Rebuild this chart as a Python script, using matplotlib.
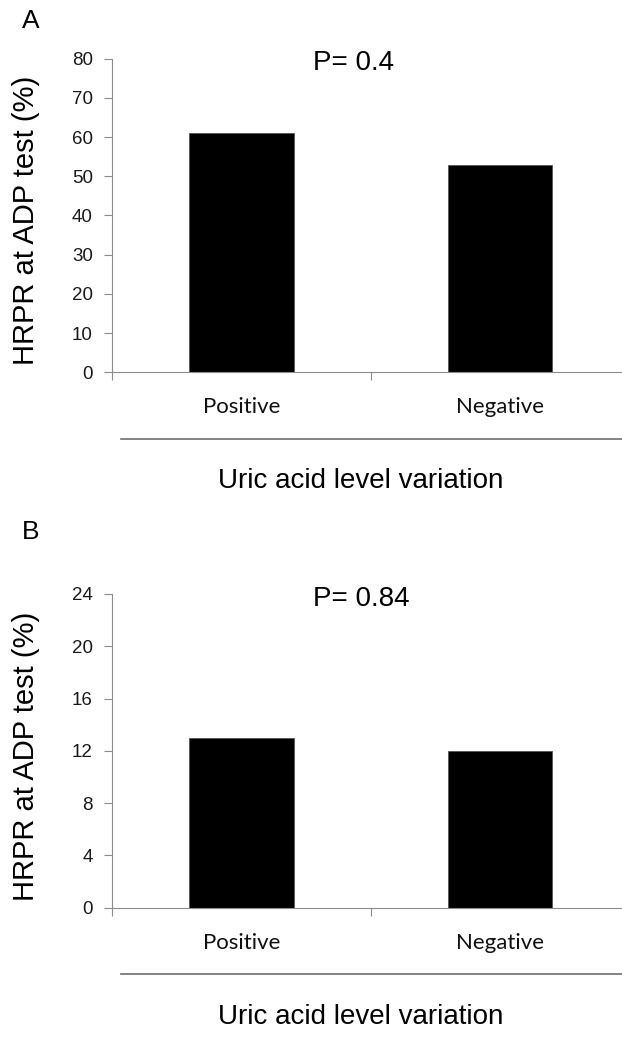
import matplotlib.pyplot as plt
from matplotlib.lines import Line2D
from matplotlib.transforms import blended_transform_factory

groups = ["Positive", "Negative"]
hrpr_a = [61, 53]
hrpr_b = [13, 12]
p_a = "P= 0.4"
p_b = "P= 0.84"
yticks_a = [0, 10, 20, 30, 40, 50, 60, 70, 80]
yticks_b = [0, 4, 8, 12, 16, 20, 24]

W, H = 622, 1039
fig = plt.figure(figsize=(W / 100, H / 100), dpi=100)
plt.rcParams['font.family'] = ['Liberation Sans', 'DejaVu Sans']

AXIS_GREY = '#8c8c8c'


def px(x, y):
    return x / W, 1 - y / H


def panel(top, letter, letter_y, values, yticks, ptext):
    bottom = top + 313.6
    left = 112.3
    width = 2 * 258.4
    x0, y0 = px(left, bottom)
    ax = fig.add_axes([x0, y0, width / W, 313.6 / H])
    ax.bar(range(len(values)), values, width=0.405, color='black',
           edgecolor='#555555', linewidth=0.6)
    ax.set_xlim(-0.5, 1.5)
    ax.set_ylim(yticks[0], yticks[-1])
    ax.set_yticks(yticks)
    ax.set_yticklabels([str(t) for t in yticks], fontsize=13.5, color='#1a1a1a')
    ax.set_xticks([-0.5, 0.5, 1.5])
    ax.set_xticklabels([])
    ax.set_xticks([0, 1], groups, minor=True)
    for lab in ax.get_xticklabels(minor=True):
        lab.set_family('Lato')
        lab.set_fontsize(16)
        lab.set_color('#111111')
    ax.tick_params(which='major', length=6, width=0.8, color=AXIS_GREY, pad=8)
    ax.tick_params(which='minor', length=0, pad=18)
    for side in ['top', 'right']:
        ax.spines[side].set_visible(False)
    for side in ['left', 'bottom']:
        ax.spines[side].set_color(AXIS_GREY)
        ax.spines[side].set_linewidth(0.8)

    # p-value above the bars
    tr = blended_transform_factory(fig.transFigure, ax.transAxes)
    ax.text(313 / W, 0.985, ptext, transform=tr, ha='left', va='center',
            fontsize=20)

    # panel letter and y label
    fig.text(*px(30.5, letter_y), letter, ha='center', va='center', fontsize=19)
    fig.text(*px(26, top + 162), "HRPR at ADP test (%)", rotation=90,
             ha='center', va='center', fontsize=21)

    # rule between category labels and the axis title
    ys = px(0, bottom + 66.5)[1]
    fig.add_artist(Line2D([121 / W, 1.0], [ys, ys], transform=fig.transFigure,
                          color='#6e6e6e', linewidth=1.2))
    fig.text(*px(361, bottom + 109), "Uric acid level variation",
             ha='center', va='center', fontsize=20)
    return ax


panel(58.7, "A", 20.5, hrpr_a, yticks_a, p_a)
panel(594.0, "B", 532.0, hrpr_b, yticks_b, p_b)

fig.savefig("out.png", dpi=100)
